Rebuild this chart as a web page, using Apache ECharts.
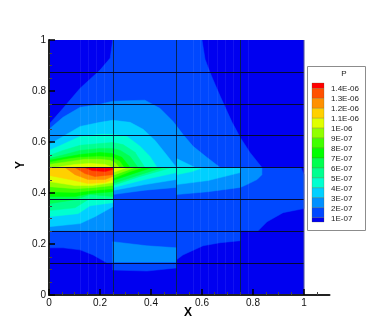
<!DOCTYPE html>
<html>
<head>
<meta charset="utf-8">
<style>html,body{margin:0;padding:0;background:#fff}#chart{width:374px;height:332px}</style>
<script src="https://cdn.jsdelivr.net/npm/echarts@6/dist/echarts.min.js"></script>
</head>
<body>
<div id="chart"></div>
<script>
// contour level colours, low to high (15 flood bands)
var bandColors = ['#0000f0','#0048ff','#0090ff','#00d0ff','#00ffd0','#00ff90','#00ff50','#00ff00','#40ff00','#90ff00','#e0ff00','#ffd000','#ff9000','#ff5000','#ff0000']
var levelLabels = ['1.4E-06','1.3E-06','1.2E-06','1.1E-06','1E-06','9E-07','8E-07','7E-07','6E-07','5E-07','4E-07','3E-07','2E-07','1E-07']
var gridX = [0.25,0.5,0.75]
var gridY = [0.125,0.25,0.375,0.5,0.625,0.75,0.875]
// faint mesh streaks
var meshX = [0.122,0.153,0.184,0.216,0.565,0.592,0.624,0.659,0.69,0.722,0.78]
var xMajor = [0,0.2,0.4,0.6,0.8,1]

// filled contour outlines: [band index, [x,y], [x,y] ...]
var upperBands = [
  [1,[0,0.67],[0.055,0.732],[0.122,0.811],[0.2,0.882],[0.24,0.929],[0.25,1],[0.6,1],[0.612,0.925],[0.631,0.874],[0.671,0.78],[0.718,0.677],[0.75,0.618],[0.788,0.559],[0.835,0.5],[0,0.5]],
  [2,[0,0.65],[0.055,0.697],[0.122,0.736],[0.2,0.748],[0.25,0.76],[0.376,0.764],[0.435,0.732],[0.486,0.681],[0.525,0.63],[0.565,0.583],[0.62,0.539],[0.671,0.5],[0,0.5]],
  [3,[0,0.59],[0.055,0.622],[0.122,0.661],[0.2,0.677],[0.25,0.685],[0.318,0.677],[0.369,0.65],[0.416,0.606],[0.463,0.547],[0.5,0.5],[0,0.5]],
  [4,[0,0.567],[0.055,0.591],[0.122,0.622],[0.2,0.63],[0.25,0.63],[0.306,0.622],[0.357,0.583],[0.396,0.543],[0.424,0.5],[0,0.5]],
  [5,[0,0.547],[0.055,0.567],[0.122,0.587],[0.2,0.594],[0.25,0.598],[0.29,0.59],[0.337,0.56],[0.376,0.5],[0,0.5]],
  [6,[0,0.535],[0.063,0.551],[0.122,0.567],[0.2,0.575],[0.25,0.575],[0.28,0.567],[0.318,0.543],[0.349,0.5],[0,0.5]],
  [7,[0,0.528],[0.063,0.54],[0.122,0.551],[0.2,0.559],[0.247,0.555],[0.286,0.54],[0.318,0.5],[0,0.5]],
  [8,[0,0.52],[0.063,0.532],[0.122,0.54],[0.2,0.543],[0.247,0.54],[0.278,0.524],[0.294,0.5],[0,0.5]],
  [9,[0,0.512],[0.082,0.524],[0.141,0.532],[0.2,0.532],[0.24,0.528],[0.263,0.516],[0.275,0.5],[0,0.5]],
  [10,[0.024,0.5],[0.102,0.512],[0.161,0.516],[0.22,0.512],[0.251,0.5]],
  [3,[0.5,0.5],[0.5,0.535],[0.573,0.5]]
]
var lowerBands = [
  [1,[0,0.5],[0.988,0.5],[1,0.472],[1,0.339],[0.918,0.323],[0.855,0.287],[0.82,0.252],[0.75,0.252],[0.75,0.213],[0.671,0.205],[0.604,0.193],[0.525,0.157],[0.5,0.138],[0.5,0.126],[0.25,0.126],[0.227,0.126],[0.173,0.157],[0.122,0.177],[0.055,0.185],[0,0.185]],
  [2,[0,0.5],[0,0.252],[0.25,0.252],[0.25,0.5]],
  [2,[0.25,0.5],[0.25,0.394],[0.376,0.411],[0.5,0.422],[0.5,0.5]],
  [2,[0.5,0.5],[0.5,0.394],[0.624,0.405],[0.75,0.422],[0.776,0.433],[0.816,0.453],[0.835,0.472],[0.835,0.5]],
  [2,[0.25,0.209],[0.384,0.193],[0.5,0.185],[0.5,0.126],[0.25,0.126]],
  [1,[0.25,0.126],[0.5,0.126],[0.5,0.106],[0.384,0.094],[0.25,0.098]],
  [3,[0,0.5],[0,0.268],[0.122,0.28],[0.18,0.307],[0.25,0.346],[0.25,0.5]],
  [3,[0.25,0.5],[0.25,0.41],[0.376,0.433],[0.5,0.453],[0.5,0.5]],
  [3,[0.5,0.5],[0.5,0.433],[0.624,0.449],[0.75,0.48],[0.75,0.5]],
  [4,[0,0.5],[0,0.307],[0.114,0.319],[0.161,0.35],[0.25,0.362],[0.25,0.5]],
  [4,[0.25,0.5],[0.25,0.421],[0.376,0.453],[0.5,0.48],[0.5,0.5]],
  [4,[0.5,0.5],[0.5,0.472],[0.561,0.484],[0.604,0.5]],
  [5,[0,0.5],[0,0.331],[0.102,0.342],[0.153,0.374],[0.25,0.378],[0.25,0.5]],
  [5,[0.25,0.5],[0.25,0.429],[0.357,0.465],[0.482,0.5]],
  [6,[0,0.5],[0,0.358],[0.102,0.374],[0.161,0.394],[0.25,0.386],[0.25,0.5]],
  [6,[0.25,0.5],[0.25,0.437],[0.357,0.472],[0.447,0.5]],
  [7,[0,0.5],[0,0.386],[0.102,0.386],[0.161,0.398],[0.25,0.405],[0.25,0.5]],
  [7,[0.25,0.5],[0.25,0.449],[0.318,0.472],[0.404,0.5]],
  [8,[0,0.5],[0,0.405],[0.102,0.402],[0.169,0.41],[0.25,0.417],[0.25,0.5]],
  [8,[0.25,0.5],[0.25,0.457],[0.318,0.484],[0.369,0.5]],
  [9,[0,0.5],[0,0.425],[0.102,0.417],[0.169,0.421],[0.25,0.429],[0.25,0.5]],
  [9,[0.25,0.5],[0.25,0.469],[0.337,0.5]],
  [10,[0,0.5],[0,0.445],[0.102,0.429],[0.169,0.429],[0.25,0.441],[0.25,0.5]],
  [10,[0.25,0.5],[0.25,0.48],[0.306,0.5]],
  [11,[0,0.5],[0,0.469],[0.082,0.453],[0.153,0.437],[0.22,0.441],[0.25,0.453],[0.25,0.5]],
  [12,[0.063,0.5],[0.102,0.472],[0.153,0.453],[0.22,0.453],[0.25,0.465],[0.25,0.5]],
  [13,[0.102,0.5],[0.141,0.476],[0.18,0.465],[0.22,0.469],[0.25,0.472],[0.25,0.5]],
  [14,[0.141,0.5],[0.169,0.488],[0.22,0.484],[0.25,0.492],[0.25,0.5]]
]
var contourBands = [[0,[0,0],[1,0],[1,1],[0,1]]].concat(upperBands, lowerBands)

var myChart = echarts.init(document.getElementById('chart'))

var fontName = 'Liberation Sans'

function renderBand (params, api) {
  var band = contourBands[params.dataIndex]
  var points = band.slice(1).map(function (p) { return api.coord(p) })
  var color = bandColors[band[0]]
  return {
    type: 'polygon',
    shape: {points: points},
    style: {fill: color, stroke: color, lineWidth: 0.5}
  }
}

function lineSeries (coords, style) {
  return {
    type: 'lines',
    coordinateSystem: 'cartesian2d',
    silent: true,
    z: 5,
    lineStyle: style,
    data: coords
  }
}

var option = {
  animation: false,
  backgroundColor: '#fff',
  textStyle: {fontFamily: fontName},
  grid: [
    {left: 49, top: 40, width: 280.5, height: 255}
  ],
  xAxis: [
    {
      type: 'value', min: 0, max: 1.1, interval: 0.2, name: 'X', nameLocation: 'start', nameGap: -143, nameMoveOverlap: false,
      nameTextStyle: {fontWeight: 'bold', fontSize: 12, color: '#000', verticalAlign: 'top', padding: [12, 0, 0, 0]},
      z: 6,
      axisLine: {onZero: false, lineStyle: {color: '#222', width: 2}},
      axisTick: {show: true, inside: true, length: 6, lineStyle: {color: '#000', width: 1.5}, customValues: xMajor},
      minorTick: {show: true, splitNumber: 4, length: 3, lineStyle: {color: '#444'}},
      splitLine: {show: false},
      axisLabel: {fontSize: 10, color: '#111', margin: 3, customValues: xMajor, formatter: function (v) { return String(+v.toFixed(1)) }}
    }
  ],
  yAxis: [
    {
      type: 'value', min: 0, max: 1, interval: 0.2,
      z: 6,
      axisLine: {onZero: false, lineStyle: {color: '#222', width: 2}},
      axisTick: {show: true, inside: true, length: 6, lineStyle: {color: '#000', width: 1.5}},
      minorTick: {show: true, splitNumber: 4, length: 3, lineStyle: {color: '#444'}},
      splitLine: {show: false},
      axisLabel: {fontSize: 10, color: '#111', margin: 3}
    }
  ],
  graphic: [
    {type: 'text', z: 2, x: 21, y: 165, rotation: Math.PI / 2, style: {text: 'Y', fontSize: 12, fontWeight: 'bold', fill: '#000', fontFamily: fontName, textAlign: 'center', textVerticalAlign: 'middle'}},
    {type: 'rect', z: 1, shape: {x: 307.5, y: 66.5, width: 58, height: 164}, style: {fill: '#fff', stroke: '#8c8c8c', lineWidth: 1}},
    {type: 'text', z: 2, x: 344, y: 70, style: {text: 'P', fontSize: 8, fill: '#222', fontFamily: fontName, textAlign: 'center'}}
  ].concat(levelLabels.map(function (t, i) {
    return {type: 'text', z: 2, x: 331, y: 85 + i * 10, style: {text: t, fontSize: 8, fill: '#222', fontFamily: fontName}}
  })).concat(bandColors.slice().reverse().map(function (c, i) {
    var top = i === 0 ? 83 : 88.5 + (i - 1) * 9.93
    var h = (i === 0 ? 88.5 : 88.5 + i * 9.93) - top
    if (i === 14) h = 222 - top
    return {type: 'rect', z: 2, shape: {x: 312, y: top, width: 12, height: h}, style: {fill: c, stroke: 'rgba(90,90,40,0.5)', lineWidth: 0.5}}
  })),
  series: [
    {
      type: 'custom',
      coordinateSystem: 'cartesian2d',
      renderItem: renderBand,
      clip: true,
      z: 2,
      silent: true,
      encode: {x: 0, y: 1},
      data: contourBands.map(function (b) { return b[1] })
    },
    lineSeries(meshX.map(function (x) { return {coords: [[x, 0], [x, 1]]} }), {color: '#fff', width: 1, opacity: 0.07}),
    lineSeries(gridX.map(function (x) { return {coords: [[x, 0], [x, 1]]} }), {color: '#06203c', width: 1, opacity: 0.85}),
    lineSeries(gridY.map(function (y) { return {coords: [[0, y], [1, y]]} }), {color: '#04082a', width: 1, opacity: 0.95}),
    lineSeries([{coords: [[1, 0], [1, 1]]}], {color: '#777', width: 1.5})
  ]
}

myChart.setOption(option)
</script>
</body>
</html>
